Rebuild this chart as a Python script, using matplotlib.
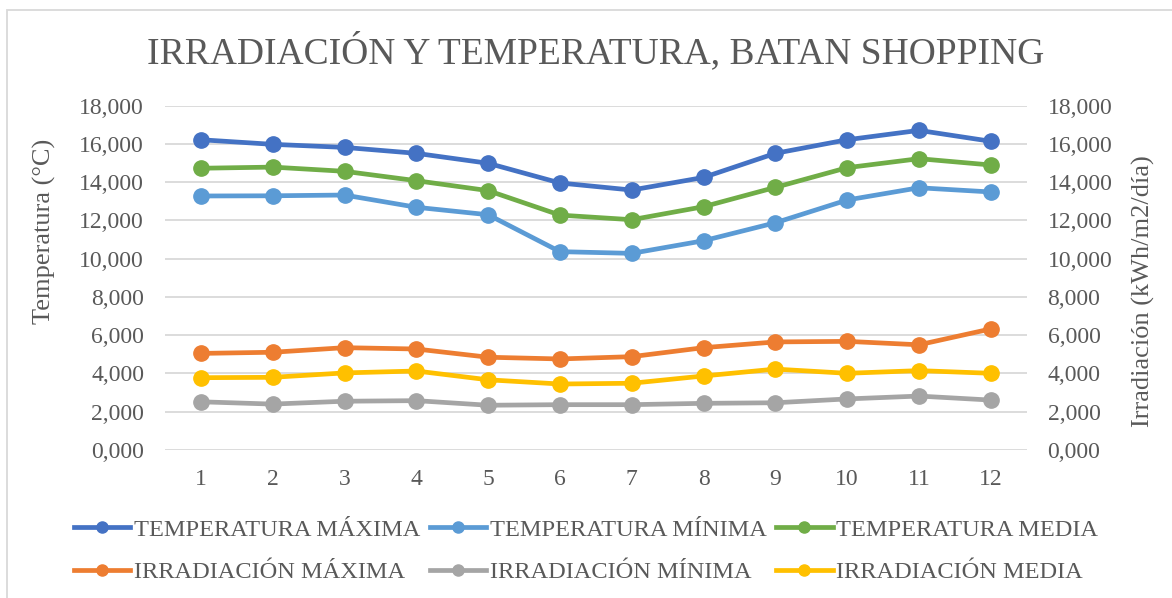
import matplotlib
matplotlib.use("Agg")
import matplotlib.pyplot as plt
from matplotlib.lines import Line2D
from matplotlib.patches import Rectangle
from matplotlib.ticker import FuncFormatter, MultipleLocator

plt.rcParams['font.family'] = ['Liberation Serif', 'DejaVu Serif']

meses = list(range(1, 13))

temp_max = [16.22, 15.98, 15.82, 15.51, 14.99, 13.96, 13.59, 14.25, 15.51, 16.22, 16.71, 16.14]
temp_min = [13.28, 13.29, 13.33, 12.69, 12.30, 10.37, 10.28, 10.94, 11.88, 13.07, 13.71, 13.49]
temp_med = [14.73, 14.79, 14.57, 14.08, 13.56, 12.28, 12.04, 12.72, 13.73, 14.76, 15.23, 14.90]

irr_max = [5.05, 5.11, 5.35, 5.28, 4.85, 4.76, 4.88, 5.35, 5.65, 5.68, 5.50, 6.33]
irr_min = [2.52, 2.40, 2.55, 2.58, 2.34, 2.37, 2.37, 2.44, 2.47, 2.67, 2.82, 2.61]
irr_med = [3.78, 3.80, 4.03, 4.13, 3.67, 3.45, 3.49, 3.87, 4.23, 4.01, 4.15, 4.01]

TXT = '#595959'
GRID = '#D9D9D9'

fig = plt.figure(figsize=(11.72, 5.98), dpi=100)
ax = fig.add_axes([165/1172, 1 - 450/598, (1026.7 - 165)/1172, (450 - 105.7)/598])
ax2 = ax.twinx()

def fmt(v, pos):
    return f"{v:.3f}".replace('.', ',')

for a in (ax, ax2):
    a.set_ylim(0, 18)
    a.set_xlim(0.5, 12.5)
    a.yaxis.set_major_locator(MultipleLocator(2))
    a.yaxis.set_major_formatter(FuncFormatter(fmt))
    for s in a.spines.values():
        s.set_visible(False)
    a.tick_params(length=0, labelsize=17, colors=TXT)
ax.tick_params(axis='y', pad=15)
ax2.tick_params(axis='y', pad=15)
ax.tick_params(axis='x', pad=14)
ax.set_xticks(meses)
ax.yaxis.grid(True, color=GRID, lw=1.3)
ax.set_axisbelow(True)

kw = dict(lw=3.4, marker='o', ms=11, solid_capstyle='round')
series = [
    (ax, temp_max, '#4472C4', 'TEMPERATURA MÁXIMA'),
    (ax, temp_min, '#5B9BD5', 'TEMPERATURA MÍNIMA'),
    (ax, temp_med, '#70AD47', 'TEMPERATURA MEDIA'),
    (ax2, irr_max, '#ED7D31', 'IRRADIACIÓN MÁXIMA'),
    (ax2, irr_min, '#A5A5A5', 'IRRADIACIÓN MÍNIMA'),
    (ax2, irr_med, '#FFC000', 'IRRADIACIÓN MEDIA'),
]
handles = []
for a, vals, col, lab in series:
    a.plot(meses, vals, color=col, **kw)
    handles.append(Line2D([], [], color=col, lw=3.4, marker='o', ms=8, label=lab))

# legend fills column by column, so interleave temperature / irradiation
orden = [0, 3, 1, 4, 2, 5]
handles = [handles[i] for i in orden]

ax.set_ylabel('Temperatura (°C)', fontsize=19, color=TXT)
ax.yaxis.set_label_coords(-0.127, (450 - 231) / (450 - 105.7))
ax2.set_ylabel('Irradiación (kWh/m2/día)', fontsize=19, color=TXT)
ax2.yaxis.set_label_coords(1.122, (450 - 291) / (450 - 105.7))

fig.text(596/1172, 1 - 52/598, 'IRRADIACIÓN Y TEMPERATURA, BATAN SHOPPING',
         fontsize=27, color=TXT, ha='center', va='center')

leg = fig.legend(handles=handles, ncol=3, loc='center',
                 bbox_to_anchor=(586/1172, 1 - 551/598), frameon=False,
                 fontsize=17.6, handlelength=2.3, handletextpad=0.15,
                 columnspacing=0.4, labelspacing=0.85, numpoints=1)
for t in leg.get_texts():
    t.set_color(TXT)

fig.add_artist(Rectangle((7/1172, -0.1), 1.2, 1 - 10/598 + 0.1,
                         transform=fig.transFigure, fill=False,
                         edgecolor=GRID, lw=1.3))

fig.savefig('out.png', dpi=100)
